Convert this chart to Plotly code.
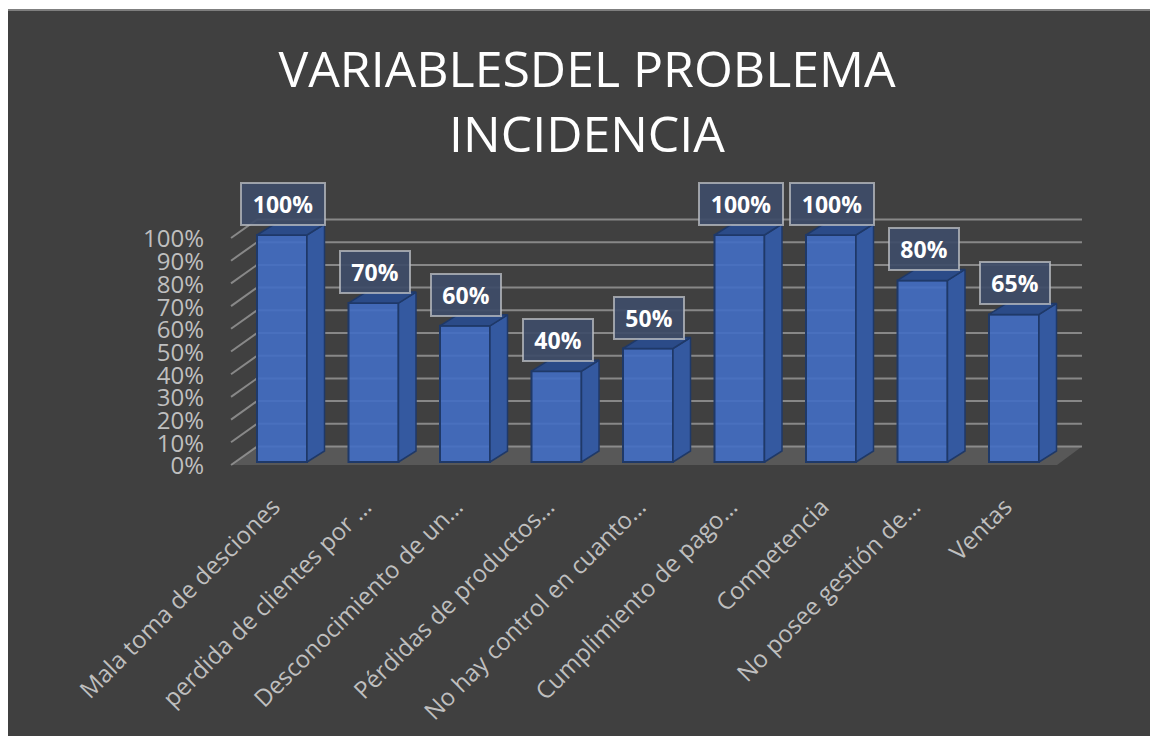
import plotly.graph_objects as go

# ---------------- data ----------------
categories = [
    "Mala toma de desciones",
    "perdida de clientes por …",
    "Desconocimiento de un…",
    "Pérdidas de productos…",
    "No hay control en cuanto…",
    "Cumplimiento de pago…",
    "Competencia",
    "No posee gestión de…",
    "Ventas",
]
values = [100, 70, 60, 40, 50, 100, 100, 80, 65]
grid_values = [0, 10, 20, 30, 40, 50, 60, 70, 80, 90, 100]
grid_labels = [f"{g}%" for g in grid_values]
title_text = "VARIABLESDEL PROBLEMA<br>INCIDENCIA"

# ---------------- layout geometry (figure pixels; page body adds 8px) ----------------
W, H = 1150, 728
L, R, T, B = 197, 58, 197, 266
PW, PH = W - L - R, H - T - B
X0_PX = 274.0      # pixel of first category centre
PX_PER_CAT = 91.5
Y0_PX = 454.0      # pixel of 0 on the bar front plane
PX_PER_PCT = 2.27

def ux(px):  # pixels -> x units
    return px / PX_PER_CAT

def uy(px):  # pixels (upwards) -> y units
    return px / PX_PER_PCT

x_range = [(L - X0_PX) / PX_PER_CAT, (W - R - X0_PX) / PX_PER_CAT]
y_range = [(Y0_PX - (T + PH)) / PX_PER_PCT, (Y0_PX - T) / PX_PER_PCT]

idx = list(range(len(categories)))
bar_w = ux(50)
dx_bar, dy_bar = ux(17.5), uy(11)
wall_front_x = -0.557
wall_back_x = wall_front_x + ux(26)
wall_right_back_x = 8.743
wall_right_front_x = 8.47
back_dy = uy(15.5)
front_dy = -uy(3)

grid_col = "rgba(160,160,160,0.75)"

fig = go.Figure()

shapes = []
# chart background frame (paper coords)
def pxp(px):
    return (px - L) / PW
def pyp(py):
    return ((T + PH) - py) / PH
shapes.append(dict(type="rect", xref="paper", yref="paper",
                   x0=pxp(-1), x1=pxp(W + 4), y0=pyp(2), y1=pyp(H + 4),
                   fillcolor="#404040", line=dict(color="#7f7f7f", width=2),
                   layer="below"))
# floor
shapes.append(dict(type="path", xref="x", yref="y", layer="below",
                   path=(f"M {wall_front_x},{front_dy} L {wall_right_front_x},{front_dy} "
                         f"L {wall_right_back_x},{back_dy} L {wall_back_x},{back_dy} Z"),
                   fillcolor="#585858", line=dict(width=0)))
# back wall gridlines + left wall diagonals
for g in grid_values:
    shapes.append(dict(type="line", xref="x", yref="y", layer="below",
                       x0=wall_back_x, x1=wall_right_back_x, y0=g + back_dy, y1=g + back_dy,
                       line=dict(color=grid_col, width=2)))
    shapes.append(dict(type="line", xref="x", yref="y", layer="below",
                       x0=wall_front_x, x1=wall_back_x, y0=g + front_dy, y1=g + back_dy,
                       line=dict(color=grid_col, width=2)))

# front faces
fig.add_trace(go.Bar(
    x=idx, y=values, width=bar_w,
    marker=dict(color="rgba(66,110,196,0.90)", line=dict(color="#1f3968", width=2)),
    hoverinfo="skip", showlegend=False,
))

# side and top faces
side_x, side_y, top_x, top_y = [], [], [], []
for i, v in zip(idx, values):
    xl, xr = i - bar_w / 2, i + bar_w / 2
    side_x += [xr, xr + dx_bar, xr + dx_bar, xr, xr, None]
    side_y += [0, dy_bar, v + dy_bar, v, 0, None]
    top_x += [xl, xr, xr + dx_bar, xl + dx_bar, xl, None]
    top_y += [v, v, v + dy_bar, v + dy_bar, v, None]

fig.add_trace(go.Scatter(x=side_x, y=side_y, mode="lines", fill="toself",
                         fillcolor="#3459a0", line=dict(color="#1f3968", width=1.5),
                         hoverinfo="skip", showlegend=False))
fig.add_trace(go.Scatter(x=top_x, y=top_y, mode="lines", fill="toself",
                         fillcolor="#2b4b88", line=dict(color="#1f3968", width=1.5),
                         hoverinfo="skip", showlegend=False))

# data labels
annotations = []
for i, v in zip(idx, values):
    txt = f"{v}%"
    annotations.append(dict(
        x=i, y=v, xref="x", yref="y", text=f"<b>{txt}</b>", showarrow=False,
        xshift=1, yshift=31,
        font=dict(family="Open Sans", size=23, color="white"),
        bgcolor="rgba(62,76,104,0.93)", bordercolor="rgba(190,192,198,0.75)",
        borderwidth=2, borderpad=6,
        width=70 if len(txt) == 4 else 56, height=28,
    ))

fig.update_layout(
    width=W, height=H,
    margin=dict(l=L, r=R, t=T, b=B, pad=0, autoexpand=False),
    paper_bgcolor="white", plot_bgcolor="rgba(0,0,0,0)",
    shapes=shapes, annotations=annotations,
    title=dict(text=title_text, x=579 / W, xanchor="center", xref="container",
               y=1 - 79 / H, yanchor="middle", yref="container",
               font=dict(family="Open Sans", size=50, color="white")),
    showlegend=False,
    xaxis=dict(range=x_range, tickvals=idx, ticktext=categories, tickangle=-45,
               tickfont=dict(family="Open Sans", size=24, color="#bfbfbf"),
               ticklabelstandoff=17, ticklabelshift=-9, automargin=False,
               showgrid=False, zeroline=False, showline=False, ticks="",
               fixedrange=True),
    yaxis=dict(range=y_range, tickvals=grid_values, ticktext=grid_labels,
               tickfont=dict(family="Open Sans", size=24, color="#bfbfbf"),
               ticklabelshift=4, automargin=False,
               showgrid=False, zeroline=False, showline=False, ticks="",
               fixedrange=True),
)

fig.write_html("out.html")
